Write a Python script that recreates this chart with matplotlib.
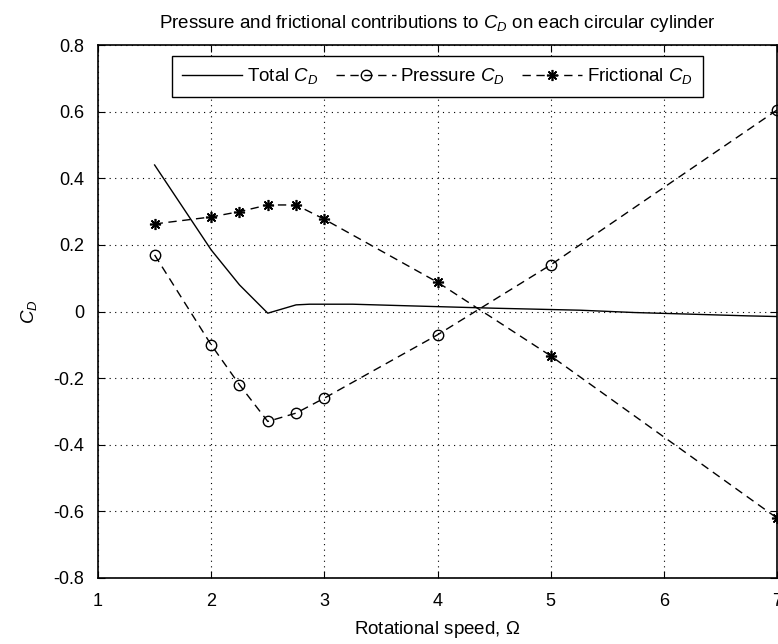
import matplotlib
matplotlib.use("Agg")
import matplotlib.pyplot as plt

# Data
omega_total = [1.5, 2.0, 2.25, 2.5, 2.75, 2.87, 3.25, 3.76, 4.5, 5.26, 5.74, 6.25, 6.74, 7.0]
cd_total = [0.44, 0.185, 0.08, -0.005, 0.02, 0.022, 0.022, 0.017, 0.01, 0.004, -0.003, -0.008, -0.013, -0.015]

omega_pts = [1.5, 2.0, 2.25, 2.5, 2.75, 3.0, 4.0, 5.0, 7.0]
cd_pressure = [0.17, -0.10, -0.22, -0.33, -0.305, -0.26, -0.07, 0.14, 0.605]
cd_friction = [0.263, 0.284, 0.30, 0.32, 0.32, 0.277, 0.088, -0.133, -0.62]

xticks = [1, 2, 3, 4, 5, 6, 7]
yticks = [-0.8, -0.6, -0.4, -0.2, 0, 0.2, 0.4, 0.6, 0.8]
ytick_labels = ["-0.8", "-0.6", "-0.4", "-0.2", "0", "0.2", "0.4", "0.6", "0.8"]

plt.rcParams['font.family'] = ['Liberation Sans', 'DejaVu Sans']
plt.rcParams['mathtext.fontset'] = 'custom'
plt.rcParams['mathtext.it'] = 'Liberation Sans:italic'
plt.rcParams['mathtext.rm'] = 'Liberation Sans'

FS = 13.5

fig = plt.figure(figsize=(7.78, 6.44), dpi=100)
ax = fig.add_axes([0.126, 0.1025, 0.8727, 0.8275])

dash = (0, (6, 4))
ax.plot(omega_total, cd_total, color='black', lw=1.0, label='Total $C_D$')
ax.plot(omega_pts, cd_pressure, color='black', lw=1.0, linestyle=dash,
        marker='o', markersize=7.5, markerfacecolor='none', markeredgewidth=1.0,
        label='Pressure $C_D$')
ax.plot(omega_pts, cd_friction, color='black', lw=1.0, linestyle=dash,
        marker=(8, 2, 0), markersize=8, markeredgewidth=1.2,
        label='Frictional $C_D$')

ax.set_xlim(1, 7)
ax.set_ylim(-0.8, 0.8)
ax.set_xticks(xticks)
ax.set_yticks(yticks)
ax.set_yticklabels(ytick_labels)
ax.tick_params(direction='in', top=True, right=True, labelsize=FS - 0.5, length=5)
ax.tick_params(axis='y', pad=10)
ax.tick_params(axis='x', pad=11)
ax.grid(True, color='black', linestyle=(0, (1, 4)), linewidth=0.8)
for s in ax.spines.values():
    s.set_linewidth(1.2)

ax.set_xlabel('Rotational speed, $\\Omega$', fontsize=FS, labelpad=6)
ax.set_ylabel('$C_D$', fontsize=FS, labelpad=10)
ax.set_title('Pressure and frictional contributions to $C_D$ on each circular cylinder',
             fontsize=FS, pad=12)

leg = ax.legend(loc='upper center', ncol=3, fontsize=FS, fancybox=False,
                edgecolor='black', framealpha=1, handlelength=3.2,
                columnspacing=0.9, handletextpad=0.25, borderpad=0.55,
                borderaxespad=0.3, bbox_to_anchor=(0.5, 0.99))
leg.get_frame().set_linewidth(1.0)

fig.savefig('out.png', dpi=100)
